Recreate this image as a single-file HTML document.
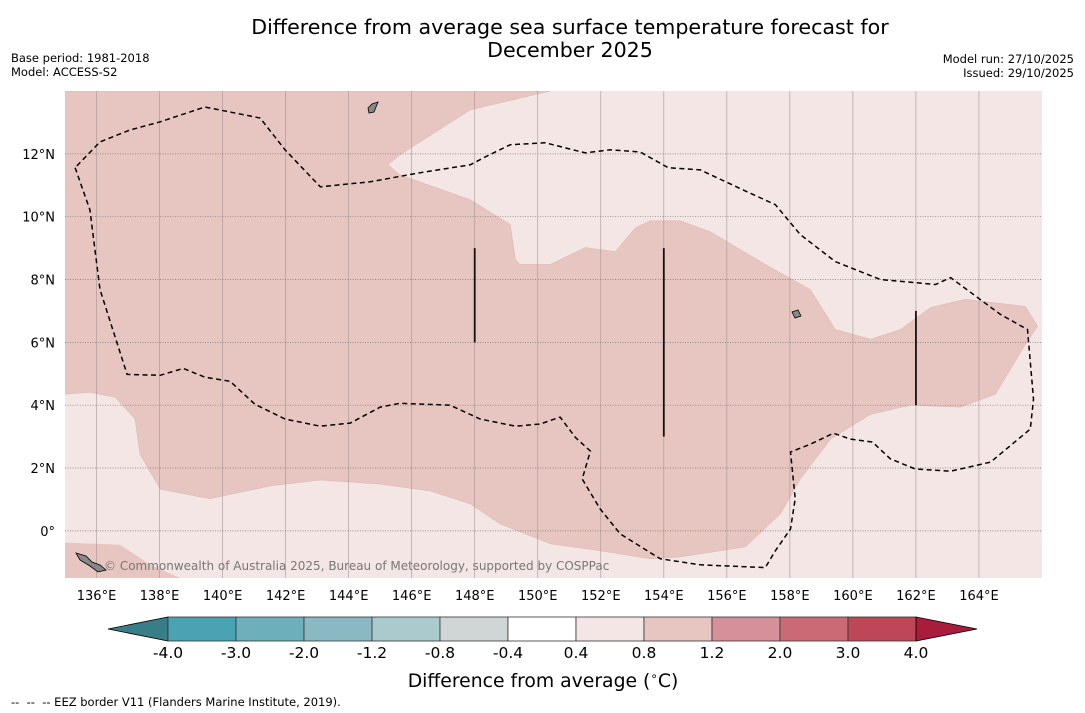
<!DOCTYPE html>
<html><head><meta charset="utf-8"><style>
body{margin:0;background:#fff;width:1085px;height:713px;overflow:hidden;font-family:"DejaVu Sans","Liberation Sans",sans-serif}
svg{display:block}
text{font-family:"DejaVu Sans","Liberation Sans",sans-serif}
</style></head><body>
<svg id="chart" width="1085" height="713" viewBox="0 0 1085 713" xmlns="http://www.w3.org/2000/svg">
<text x="570" y="34" font-size="20.6" text-anchor="middle">Difference from average sea surface temperature forecast for</text>
<text x="570" y="57" font-size="20.6" text-anchor="middle">December 2025</text>
<text x="11" y="62" font-size="11.5">Base period: 1981-2018</text>
<text x="11" y="76" font-size="11.5">Model: ACCESS-S2</text>
<text x="1074" y="63" font-size="11.5" text-anchor="end">Model run: 27/10/2025</text>
<text x="1074" y="77" font-size="11.5" text-anchor="end">Issued: 29/10/2025</text>
<g id="map"></g>
<g id="cbar"></g>
<text x="543" y="687" font-size="18.8" text-anchor="middle">Difference from average (<tspan font-size="12" dy="-7">∘</tspan><tspan dy="7">C)</tspan></text>
<text x="11" y="706" font-size="11.5" xml:space="preserve">--  --  -- EEZ border V11 (Flanders Marine Institute, 2019).</text>
</svg>
<script>
const lonTicks=[136,138,140,142,144,146,148,150,152,154,156,158,160,162,164];
const latTicks=[0,2,4,6,8,10,12];
const anomalyRegion=[[135,14],[150.4,14],[147.86,13.4],[145.63,11.97],[145.25,11.65],[145.63,11.33],[147.86,10.54],[149.13,9.75],[149.29,8.63],[149.44,8.48],[150.4,8.48],[151.51,9.02],[152.46,8.89],[153.1,9.65],[153.57,9.87],[154.52,9.87],[155.48,9.52],[157.22,8.48],[158.65,7.68],[159.44,6.41],[160.56,6.1],[161.51,6.41],[162.46,7.11],[163.57,7.37],[165.48,7.14],[165.86,6.51],[165.48,5.94],[164.52,4.35],[163.41,3.94],[161.83,4.0],[160.56,3.71],[159.29,2.92],[158.33,1.65],[157.7,0.54],[156.59,-0.51],[154.52,-0.83],[153.57,-0.89],[151.98,-0.63],[150.4,-0.41],[148.81,0.22],[147.86,0.86],[146.59,1.27],[145.0,1.49],[143.1,1.62],[141.51,1.43],[139.6,1.02],[138.02,1.33],[137.38,2.44],[137.22,3.56],[136.59,4.25],[135.79,4.41],[135,4.35]];
const anomalyRegion2=[[135,-0.37],[136.75,-0.44],[137.7,-1.08],[138.65,-1.5],[135,-1.5]];
const eezBorder=[[135.32,11.56],[135.79,10.22],[136.11,7.68],[136.97,4.98],[138.02,4.95],[138.75,5.17],[139.44,4.89],[140.24,4.76],[141.03,4.03],[141.98,3.56],[143.1,3.33],[144.05,3.43],[145.0,3.94],[145.63,4.06],[147.22,4.0],[148.17,3.56],[149.29,3.33],[150.08,3.4],[150.71,3.62],[151.19,2.98],[151.67,2.54],[151.41,1.65],[151.98,0.7],[152.62,-0.1],[153.89,-0.89],[155.16,-1.08],[157.22,-1.17],[157.54,-0.63],[158.02,0.06],[158.17,1.02],[158.02,2.51],[158.65,2.76],[159.38,3.11],[159.92,2.92],[160.62,2.83],[161.19,2.29],[161.98,1.97],[163.1,1.9],[164.37,2.19],[165.63,3.24],[165.73,4.19],[165.54,6.41],[164.68,6.89],[163.1,8.06],[162.62,7.84],[160.87,8.0],[159.44,8.57],[158.33,9.43],[157.54,10.38],[156.37,10.92],[155.16,11.49],[154.14,11.56],[153.25,12.06],[152.3,12.13],[151.51,12.03],[150.24,12.35],[149.13,12.29],[148.33,11.9],[147.86,11.65],[146.27,11.4],[144.68,11.11],[143.1,10.95],[141.98,12.13],[141.19,13.14],[139.44,13.49],[138.02,13.02],[137.06,12.76],[136.11,12.38],[135.41,11.65],[135.32,11.56]];
const boundaryLines=[[148,9,6],[154,9,3],[162,7,4]];
const cbarLabels=["-4.0","-3.0","-2.0","-1.2","-0.8","-0.4","0.4","0.8","1.2","2.0","3.0","4.0"];
const cbarColors=["#4aa3b3","#6eafbc","#8ab9c3","#aacacd","#d0d6d5","#ffffff","#f4e6e4","#e7c6c1","#d6909a","#cb6a75","#be4757"];
const NS="http://www.w3.org/2000/svg";
const X0=65,X1=1042,Y0=91,Y1=578,LON0=135,LON1=166,LAT0=-1.5,LAT1=14;
const xs=lon=>X0+(lon-LON0)/(LON1-LON0)*(X1-X0);
const ys=lat=>Y1-(lat-LAT0)/(LAT1-LAT0)*(Y1-Y0);
function mk(tag,attrs,parent){const e=document.createElementNS(NS,tag);for(const k in attrs)e.setAttribute(k,attrs[k]);parent.appendChild(e);return e;}
const map=document.getElementById('map');
const cp=mk('clipPath',{id:'clip'},map);mk('rect',{x:X0,y:Y0,width:X1-X0,height:Y1-Y0},cp);
let bg=mk('rect',{x:X0,y:Y0,width:X1-X0,height:Y1-Y0,fill:'#f4e6e4'},map);


const g=mk('g',{'clip-path':'url(#clip)'},map);
const pts=a=>a.map(p=>xs(p[0]).toFixed(1)+','+ys(p[1]).toFixed(1)).join(' ');
let r1=mk('polygon',{points:pts(anomalyRegion),fill:'#e7c6c1',stroke:'#d9b5b0','stroke-width':0.5},g);


let r2=mk('polygon',{points:pts(anomalyRegion2),fill:'#e7c6c1'},g);


lonTicks.forEach(l=>{
 let ln=mk('line',{x1:xs(l),x2:xs(l),y1:Y0,y2:Y1,stroke:'#a09090','stroke-width':0.7,opacity:0.8},g);
 
 
 let t=mk('text',{x:xs(l),y:600,'font-size':13,'text-anchor':'middle'},document.getElementById('chart'));
 t.textContent=l+'°E';
 
 
});
latTicks.forEach(l=>{
 let ln=mk('line',{x1:X0,x2:X1,y1:ys(l),y2:ys(l),stroke:'#777','stroke-width':0.7,'stroke-dasharray':'1,1.5'},g);
 
 
 let t=mk('text',{x:55,y:ys(l)+5,'font-size':13,'text-anchor':'end'},document.getElementById('chart'));
 t.textContent=l===0?'0°':l+'°N';
 
 
});
let eez=mk('polyline',{points:pts(eezBorder),fill:'none',stroke:'#000','stroke-width':1.5,'stroke-dasharray':'5,3.5'},g);


boundaryLines.forEach(b=>{
 let ln=mk('line',{x1:xs(b[0]),x2:xs(b[0]),y1:ys(b[1]),y2:ys(b[2]),stroke:'#111','stroke-width':1.8},g);
 
 
});
let isl=mk('path',{d:'M76,553 L86,556 L92,562 L100,565 L106,570 L98,572 L90,566 L80,560 Z M368,108 L372,104 L378,102 L374,112 L369,113 Z M792,312 L798,310 L801,316 L795,318 Z',fill:'#888',stroke:'#000','stroke-width':0.8},g);


let cr=mk('text',{x:104,y:570,'font-size':12,fill:'#777'},g);
cr.textContent='© Commonwealth of Australia 2025, Bureau of Meteorology, supported by COSPPac';


const cb=document.getElementById('cbar');
const CX0=168,CW=68,CY=617,CH=24;
let lt=mk('polygon',{points:`108,629 ${CX0},${CY} ${CX0},${CY+CH}`,fill:'#377e88',stroke:'#000','stroke-width':0.8},cb);


cbarColors.forEach((c,i)=>{
 let r=mk('rect',{x:CX0+i*CW,y:CY,width:CW,height:CH,fill:c,stroke:'#333','stroke-width':0.8},cb);
 
 
});
const CXE=CX0+cbarColors.length*CW;
let rt=mk('polygon',{points:`${CXE},${CY} 977,629 ${CXE},${CY+CH}`,fill:'#a91c3b',stroke:'#000','stroke-width':0.8},cb);


cbarLabels.forEach((s,i)=>{
 let t=mk('text',{x:CX0+i*CW,y:658,'font-size':15.5,'text-anchor':'middle'},cb);
 t.textContent=s;
 
 
});
</script>
</body></html>
